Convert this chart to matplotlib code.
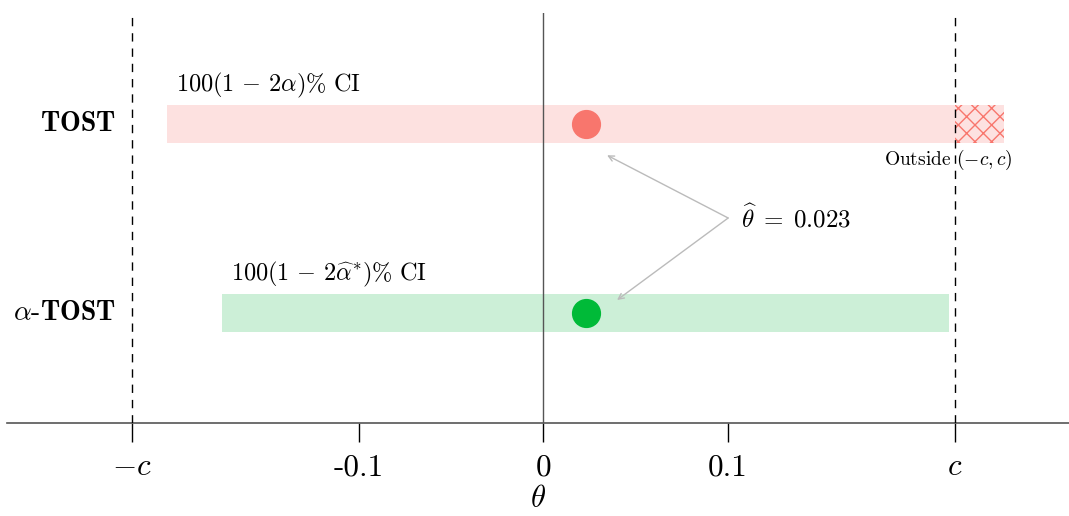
import matplotlib
matplotlib.use("Agg")
import matplotlib.pyplot as plt
from matplotlib.patches import Rectangle

plt.rcParams['mathtext.fontset'] = 'cm'
plt.rcParams['font.family'] = ['cmr10', 'DejaVu Sans']
plt.rcParams['axes.unicode_minus'] = False
plt.rcParams['hatch.linewidth'] = 1.0

# data
methods = [r'$\mathbf{TOST}$', r'$\alpha\text{-}\mathbf{TOST}$']
theta_hat = 0.023
c = 0.223
ci_lower = [-0.204, -0.174]
ci_upper = [0.250, 0.220]
ci_labels = [r'$100(1\,-\,2\alpha)\%\ \mathrm{CI}$', r'$100(1\,-\,2\widehat{\alpha}^{*})\%\ \mathrm{CI}$']
tick_values = [-c, -0.1, 0, 0.1, c]
tick_labels = [r'$-c$', '-0.1', '0', '0.1', r'$c$']

colors = ['#F8766D', '#00BA38']
fills = ['#FDE1E0', '#CCEFD7']
ypos = [0.729, 0.268]
bar_h = 0.093

fig = plt.figure(figsize=(10.69, 5.16), dpi=100)
ax = fig.add_axes([7/1069, (516-423)/516, 1 - 7/1069, 410/516])
ax.set_xlim(-0.2905, 0.285)
ax.set_ylim(0, 1)

for i in range(2):
    lo, hi = ci_lower[i], ci_upper[i]
    main_hi = min(hi, c)
    ax.add_patch(Rectangle((lo, ypos[i] - bar_h/2), main_hi - lo, bar_h,
                           facecolor=fills[i], edgecolor='none', zorder=1))
    if hi > c:
        ax.add_patch(Rectangle((c, ypos[i] - bar_h/2), hi - c, bar_h,
                               facecolor=fills[i], edgecolor=colors[i], hatch='xx',
                               linewidth=0, zorder=1))
        ax.text(c - 0.0035, ypos[i] - bar_h/2 - 0.012, r'Outside $(-c,c)$',
                ha='center', va='top', fontsize=14, zorder=5)
    ax.text(lo + 0.005, ypos[i] + bar_h/2 + 0.012, ci_labels[i], ha='left', va='bottom',
            fontsize=17.5)
    ax.plot([theta_hat], [ypos[i]], 'o', color=colors[i], markersize=20, zorder=4)
    ax.text(-0.2315, ypos[i], methods[i], ha='right', va='center', fontsize=20)

ax.axvline(0, color='#555555', linewidth=1.0, zorder=2)
for v in (-c, c):
    ax.axvline(v, color='black', linewidth=1.0, linestyle=(0, (6, 5)), zorder=3)

ax.text(theta_hat + 0.0845, 0.5, r'$\widehat{\theta}\;=\;0.023$', ha='left', va='center', fontsize=18)
for i, (dx, dy) in enumerate([(0.0117, -0.076), (0.0171, 0.032)]):
    ax.annotate('', xy=(theta_hat + dx, ypos[i] + dy), xytext=(theta_hat + 0.0773, 0.5),
                arrowprops=dict(arrowstyle='->', color='#BBBBBB', lw=1.0, shrinkA=0, shrinkB=0))

for s in ['top', 'right', 'left']:
    ax.spines[s].set_visible(False)
ax.spines['bottom'].set_color('#555555')
ax.spines['bottom'].set_linewidth(1.2)
ax.set_yticks([])
ax.set_xticks(tick_values)
ax.set_xticklabels(tick_labels, fontsize=22.5)
ax.tick_params(axis='x', direction='out', length=14, width=1, color='black', pad=8)
ax.set_xlabel(r'$\theta$', fontsize=22, labelpad=3)

fig.savefig('out.png', dpi=100)
